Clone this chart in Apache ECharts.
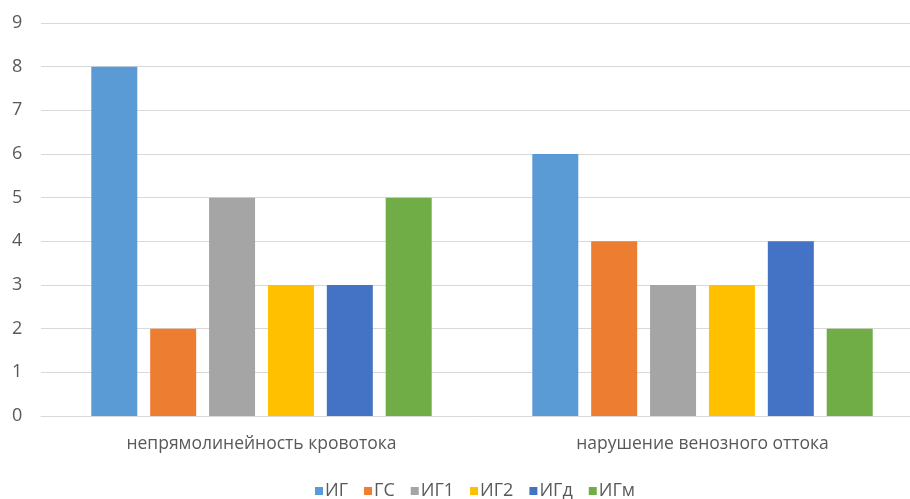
<!DOCTYPE html>
<html>
<head>
<meta charset="utf-8">
<script src="https://cdn.jsdelivr.net/npm/echarts@6/dist/echarts.min.js"></script>
<style>
  html, body { margin: 0; padding: 0; background: #fff; overflow: hidden; }
  #chart { width: 910px; height: 499px; }
</style>
</head>
<body>
<div id="chart"></div>
<script>
const categories = ['непрямолинейность кровотока', 'нарушение венозного оттока'];
const seriesNames = ['ИГ', 'ГС', 'ИГ1', 'ИГ2', 'ИГд', 'ИГм'];
const valuesIG  = [8, 6];
const valuesGS  = [2, 4];
const valuesIG1 = [5, 3];
const valuesIG2 = [3, 3];
const valuesIGd = [3, 4];
const valuesIGm = [5, 2];
const colors = ['#5B9BD5', '#ED7D31', '#A5A5A5', '#FFC000', '#4472C4', '#70AD47'];

const allValues = [valuesIG, valuesGS, valuesIG1, valuesIG2, valuesIGd, valuesIGm];
const textColor = '#595959';
const fontFamily = '"Open Sans", "Liberation Sans", sans-serif';

const chart = echarts.init(document.getElementById('chart'));
chart.setOption({
  animation: false,
  color: colors,
  textStyle: { fontFamily: fontFamily },
  // plot area is wider than the canvas and runs past its right edge
  grid: { left: 41, width: 882, top: 23, bottom: 83, containLabel: false, outerBoundsMode: 'none' },
  legend: {
    top: 477,
    left: 310,
    itemWidth: 8,
    itemHeight: 8,
    itemGap: 16,
    icon: 'rect',
    textStyle: { color: textColor, fontSize: 18, fontFamily: fontFamily, padding: [0, 0, 0, -3] },
    data: seriesNames
  },
  xAxis: {
    type: 'category',
    data: categories,
    axisLine: { lineStyle: { color: '#D9D9D9', width: 1 } },
    axisTick: { show: false },
    axisLabel: { color: textColor, fontSize: 17.5, margin: 19, fontFamily: fontFamily }
  },
  yAxis: {
    type: 'value',
    min: 0,
    max: 9,
    interval: 1,
    axisLine: { show: false },
    axisTick: { show: false },
    axisLabel: { color: textColor, fontSize: 18, margin: 29, align: 'left', fontFamily: fontFamily },
    splitLine: { lineStyle: { color: '#D9D9D9', width: 1 } }
  },
  series: seriesNames.map((name, i) => ({
    name: name,
    type: 'bar',
    data: allValues[i],
    barWidth: 46,
    barGap: '28%',
    itemStyle: { color: colors[i] }
  }))
});
</script>
</body>
</html>
